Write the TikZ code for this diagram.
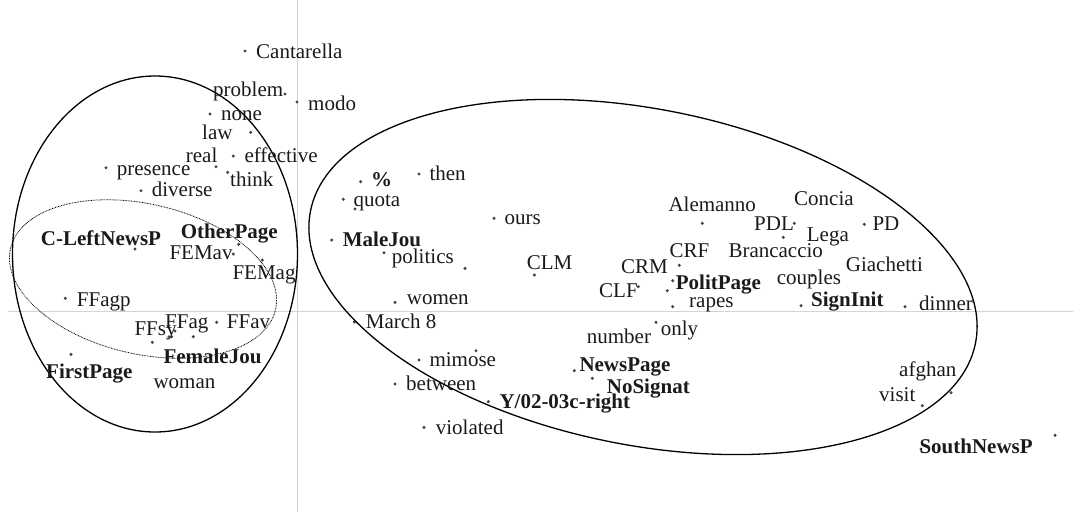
\documentclass[tikz,border=0pt]{standalone}
\usepackage{fontspec}
\setmainfont{Liberation Serif}
\usetikzlibrary{positioning}
\definecolor{ink}{HTML}{1A1A1A}
\definecolor{axisgray}{HTML}{D4D4D4}
\definecolor{dotgray}{HTML}{444444}

\begin{document}
\begin{tikzpicture}[x=1pt,y=-1pt]

\tikzstyle{wd}=[anchor=base west,inner sep=0pt,text=ink,
  font=\fontsize{21}{24}\selectfont]
\tikzstyle{bf}=[wd,font=\fontsize{21}{24}\selectfont\bfseries]
\tikzstyle{ax}=[axisgray,line width=0.8pt]
\tikzstyle{grp}=[black,line width=1.3pt]

\useasboundingbox (0,0) rectangle (1073,512);

% axes
\draw[ax] (297,0) -- (297,512);
\draw[ax] (8,311) -- (1073,311);

% groups
\draw[grp] (155,254) ellipse [x radius=142.5,y radius=178];
\draw[grp,rotate around={-11.25:(643,277)}] (643,277)
  ellipse [x radius=339,y radius=168];
\draw[black,line width=0.8pt,dash pattern=on 0.8pt off 0.8pt,
  rotate around={-13:(143,279)}] (143,279)
  ellipse [x radius=136,y radius=75];

% points
\foreach \px/\py in {245/51,285/94,297/102,210/114,250.7/132.3,233.3/156,
  216/166.7,227.7/172.3,106/167.7,141/190.7,135/249,238.7/244.3,233.3/254,
  262.3/260,65.3/298.3,175/331,216.7/322.3,169/336.7,171.7/336.7,
  152.3/342.3,193.3/336.7,71/354.3,360.7/181.7,419/174,343.3/199.3,
  355/209,494/218.3,331.7/240,384/252.7,465/268.3,534.3/275,395/302.3,
  354.3/322,638.3/286.7,656/322.3,419/360,476/350.7,395/384,488.3/401.7,
  424/427.3,574.3/370.7,592.3/378.3,702.3/223.3,794.3/223.3,864.3/224.3,
  783.3/237.3,679.3/265.3,812.3/275.7,672.7/280.7,667.3/290.7,
  672.7/306.7,801/305.7,905/306.7,951/392.7,922.3/405.7,1055/435.3,921/449}
  \fill[dotgray] (\px,\py) circle (1.7pt);

% left group
\node[wd] (cantarella) at (256,58) {Cantarella};
\node[wd] (problem) at (213,96) {problem};
\node[wd] (modo) at (308,110) {modo};
\node[wd] (none) at (221,120.7) {none};
\node[wd] (law) at (202,139) {law};
\node[wd] (effective) at (244.3,162.7) {effective};
\node[wd] (real) at (185.7,162.7) {real};
\node[wd] (think) at (230,186.7) {think};
\node[wd] (presence) at (116.7,175.7) {presence};
\node[wd] (diverse) at (151.7,196.7) {diverse};
\node[bf] (cleft) at (40.7,245) {C-LeftNewsP};
\node[bf] (other) at (180.7,238.3) {OtherPage};
\node[wd] (femav) at (169.3,259) {FEMav};
\node[wd] (femag) at (232.3,279) {FEMag};
\node[wd] (ffagp) at (76.7,306) {FFagp};
\node[wd] (ffag) at (165,328.3) {FFag};
\node[wd] (ffav) at (226.7,328.3) {FFav};
\node[wd] (ffsy) at (134.3,335) {FFsy};
\node[bf] (female) at (163.3,363.3) {FemaleJou};
\node[wd] (woman) at (153.3,388.3) {woman};
\node[bf] (first) at (46,378.3) {FirstPage};

% right group
\node[bf] (perc) at (371,186.7) {\%};
\node[wd] (then) at (429.3,180.7) {then};
\node[wd] (quota) at (353.3,206) {quota};
\node[wd] (ours) at (504.3,224) {ours};
\node[bf] (male) at (342.7,246.7) {MaleJou};
\node[wd] (politics) at (391.7,263.3) {politics};
\node[wd] (clm) at (526.7,269) {CLM};
\node[wd] (women) at (406.7,304.3) {women};
\node[wd] (march) at (365.7,328.3) {March 8};
\node[wd] (crm) at (621,273.3) {CRM};
\node[wd] (clf) at (599,297.7) {CLF};
\node[wd] (number) at (586.7,343.3) {number};
\node[wd] (only) at (660.7,335) {only};
\node[wd] (mimose) at (429.3,366.7) {mimose};
\node[wd] (between) at (406,390.7) {between};
\node[bf] (yright) at (499.3,408.3) {Y/02-03c-right};
\node[wd] (violated) at (435.7,434) {violated};
\node[bf] (news) at (579.3,371) {NewsPage};
\node[bf] (nosign) at (606.7,393.3) {NoSignat};
\node[wd] (alemanno) at (668.3,211.7) {Alemanno};
\node[wd] (concia) at (794,205) {Concia};
\node[wd] (pdl) at (754,230) {PDL};
\node[wd] (pd) at (872.3,230) {PD};
\node[wd] (lega) at (806.7,241.7) {Lega};
\node[wd] (crf) at (669.3,257.3) {CRF};
\node[wd] (brancaccio) at (728.3,257.3) {Brancaccio};
\node[wd] (giachetti) at (845.7,271.7) {Giachetti};
\node[wd] (couples) at (776.7,284.3) {couples};
\node[bf] (polit) at (675.7,289.3) {PolitPage};
\node[wd] (rapes) at (689,307.7) {rapes};
\node[bf] (sign) at (811,306.7) {SignInit};
\node[wd] (dinner) at (919,310) {dinner};
\node[wd] (afghan) at (899,376.7) {afghan};
\node[wd] (visit) at (879,401) {visit};
\node[bf] (south) at (919.3,453.3) {SouthNewsP};

\end{tikzpicture}
\end{document}
